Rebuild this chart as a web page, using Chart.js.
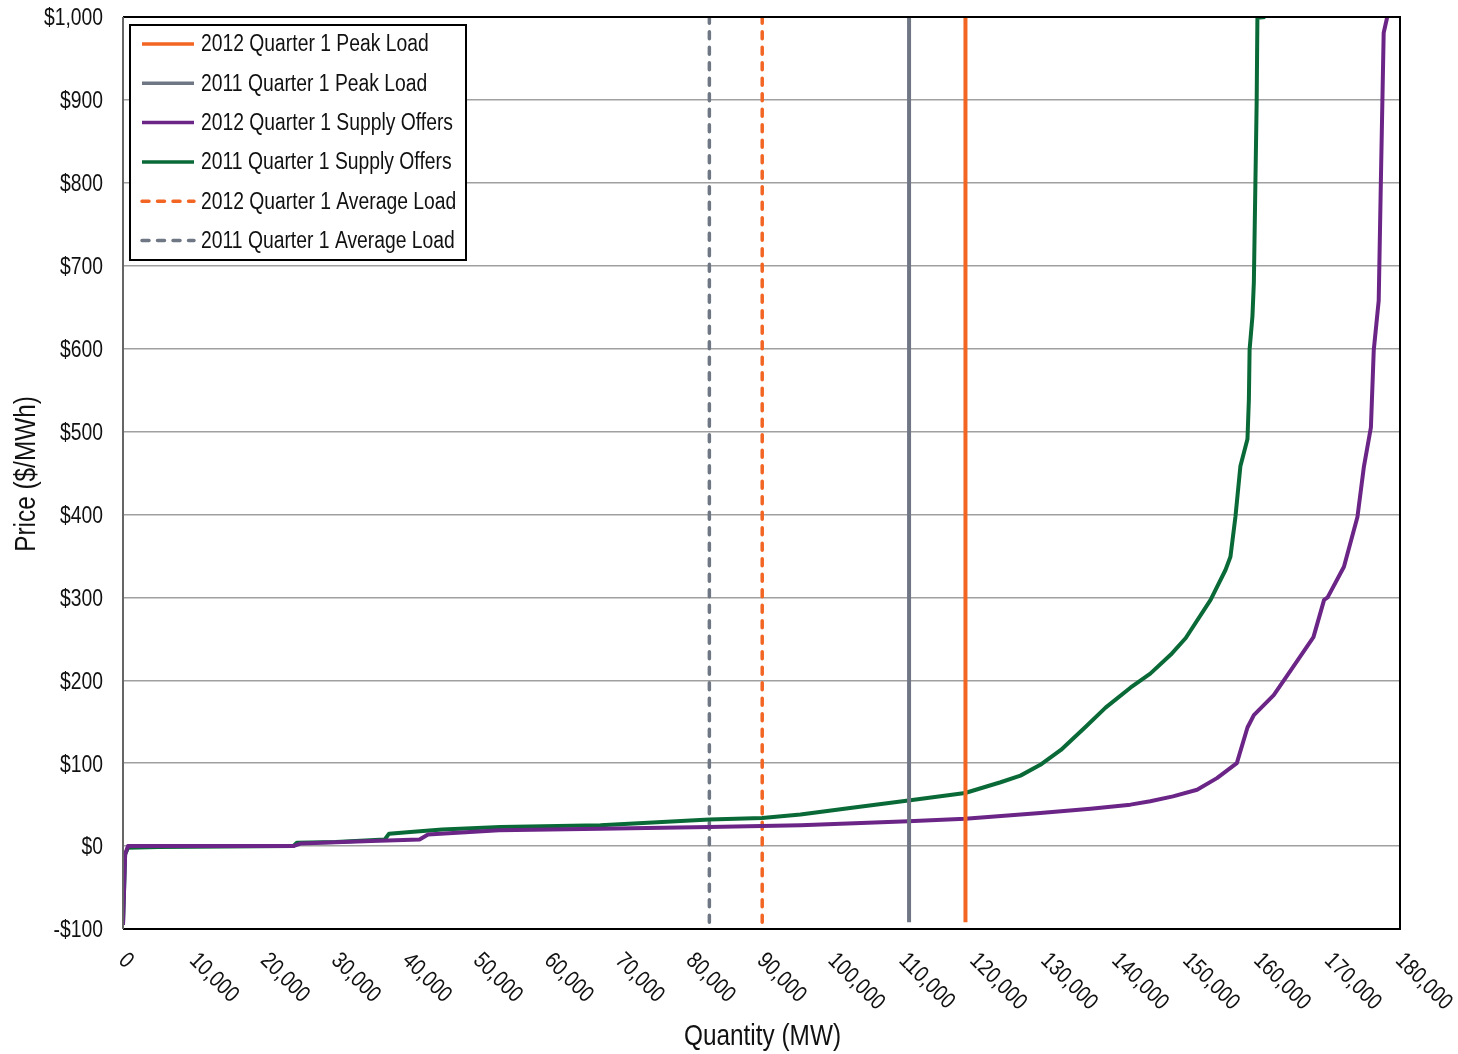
<!DOCTYPE html>
<html lang="en">
<head>
    <meta charset="UTF-8">
    <title>Supply Offers vs Load - Quarter 1</title>
    <script src="https://cdn.jsdelivr.net/npm/chart.js"></script>
    <style>
        html, body { margin: 0; padding: 0; background: #fff; }
        canvas { display: block; }
    </style>
</head>
<body>
    <canvas id="myChart" width="1458" height="1054"></canvas>
<script>
    // Curvas de oferta (MW, $/MWh)
    const quantidade2011 = [0, 300, 700, 5000, 24000, 24500, 30000, 36900, 37500, 40500, 45000, 53200, 67300,
        82650, 90100, 95500, 102500, 110700, 118700, 123700, 126500, 129300, 132200, 135700, 138500, 142000,
        144800, 147700, 149800, 153300, 155400, 156100, 156800, 157500, 158500, 158700, 158800, 159200,
        159400, 159800, 159900, 161000];
    const preco2011 = [-95, -10, -2, -1, 0, 4, 5, 8, 15, 17, 20, 23, 25,
        32, 34, 38, 46, 55, 64, 77, 85, 98, 116, 144, 167, 191,
        208, 231, 251, 297, 333, 349, 397, 458, 491, 539, 599, 639,
        680, 900, 999, 1000];

    const quantidade2012 = [0, 300, 700, 5000, 24000, 25000, 35000, 41800, 43000, 53000, 67300, 82650,
        95500, 110700, 118700, 129300, 136400, 142000, 144800, 148000, 151400, 154200, 157000, 158500,
        159400, 162200, 164600, 167800, 169300, 169800, 172100, 174000, 174900, 175900, 176300, 177000,
        177300, 177700, 178200];
    const preco2012 = [-95, -10, 0, 0, 0, 3, 6, 8, 14, 19, 21, 23,
        25, 30, 33, 40, 45, 50, 54, 60, 68, 82, 100, 143,
        158, 182, 212, 252, 297, 300, 337, 397, 457, 505, 598, 658,
        800, 981, 1000];

    // Cargas (MW)
    const picoCarga2012 = 118750;
    const picoCarga2011 = 110800;
    const mediaCarga2012 = 90100;
    const mediaCarga2011 = 82650;
    const faixaPreco = [-92, 1000];

    const xTicks = [0, 10000, 20000, 30000, 40000, 50000, 60000, 70000, 80000, 90000,
        100000, 110000, 120000, 130000, 140000, 150000, 160000, 170000, 180000];
    const yTicks = [-100, 0, 100, 200, 300, 400, 500, 600, 700, 800, 900, 1000];

    const cores = {
        laranja: '#F26522',
        cinza: '#6E7783',
        roxo: '#6B2587',
        verde: '#0A6A37'
    };

    const fonte = '"Liberation Sans", Arial, sans-serif';
    const estreito = 0.84; // compressao horizontal do texto (fonte estreita)

    function pontos(xs, ys) {
        return xs.map((x, i) => ({ x: x, y: ys[i] }));
    }

    function vertical(x) {
        return faixaPreco.map(y => ({ x: x, y: y }));
    }

    // escreve texto comprimido na horizontal
    function texto(c, str, x, y, align, ang) {
        c.save();
        c.translate(x, y);
        if (ang) c.rotate(ang);
        c.scale(estreito, 1);
        c.textAlign = align;
        c.fillText(str, 0, 0);
        c.restore();
    }

    const datasets = [
        { label: '2012 Quarter 1 Peak Load', data: vertical(picoCarga2012), borderColor: cores.laranja, borderWidth: 4, dash: [] },
        { label: '2011 Quarter 1 Peak Load', data: vertical(picoCarga2011), borderColor: cores.cinza, borderWidth: 4, dash: [] },
        { label: '2012 Quarter 1 Supply Offers', data: pontos(quantidade2012, preco2012), borderColor: cores.roxo, borderWidth: 4, dash: [] },
        { label: '2011 Quarter 1 Supply Offers', data: pontos(quantidade2011, preco2011), borderColor: cores.verde, borderWidth: 4, dash: [] },
        { label: '2012 Quarter 1 Average Load', data: vertical(mediaCarga2012), borderColor: cores.laranja, borderWidth: 3.5, dash: [7, 8.5] },
        { label: '2011 Quarter 1 Average Load', data: vertical(mediaCarga2011), borderColor: cores.cinza, borderWidth: 3.5, dash: [7, 8.5] }
    ].map(d => ({
        label: d.label,
        data: d.data,
        borderColor: d.borderColor,
        backgroundColor: d.borderColor,
        borderWidth: d.borderWidth,
        borderDash: d.dash,
        borderCapStyle: d.dash.length ? 'round' : 'butt',
        borderJoinStyle: 'round',
        showLine: true,
        pointRadius: 0,
        tension: 0
    }));

    // Moldura, rotulos dos eixos, titulos e legenda
    const extras = {
        id: 'extras',
        afterDraw(chart) {
            const c = chart.ctx;
            const a = chart.chartArea;
            const xs = chart.scales.x;
            const ys = chart.scales.y;

            c.save();
            // moldura
            c.lineWidth = 2;
            c.strokeStyle = '#000';
            c.beginPath();
            c.moveTo(a.left, a.top);
            c.lineTo(a.right, a.top);
            c.lineTo(a.right, a.bottom);
            c.lineTo(a.left, a.bottom);
            c.stroke();
            c.strokeStyle = '#666';
            c.beginPath();
            c.moveTo(a.left, a.top);
            c.lineTo(a.left, a.bottom);
            c.stroke();

            c.fillStyle = '#111';
            c.font = '23px ' + fonte;
            c.textBaseline = 'middle';

            // rotulos do eixo y
            yTicks.forEach(v => {
                const lbl = (v < 0 ? '-$' : '$') + Math.abs(v).toLocaleString('en-US');
                texto(c, lbl, a.left - 20, ys.getPixelForValue(v) + 2, 'right');
            });

            // rotulos do eixo x, inclinados 45 graus
            xTicks.forEach(v => {
                const px = xs.getPixelForValue(v);
                texto(c, v.toLocaleString('en-US'), px - 1, a.bottom + 28, 'left', Math.PI / 4);
            });

            // titulos
            c.font = '29px ' + fonte;
            texto(c, 'Quantity (MW)', (a.left + a.right) / 2 + 1, 1037, 'center');
            texto(c, 'Price ($/MWh)', 27, 474, 'center', -Math.PI / 2);

            // legenda
            const lx = 130, ly = 25, lw = 336, lh = 235;
            c.fillStyle = '#fff';
            c.fillRect(lx, ly, lw, lh);
            c.lineWidth = 2;
            c.strokeStyle = '#000';
            c.strokeRect(lx, ly, lw, lh);
            c.font = '23px ' + fonte;
            chart.data.datasets.forEach((ds, i) => {
                const y = ly + 19 + i * 39.3;
                c.beginPath();
                c.lineWidth = 3.5;
                c.strokeStyle = ds.borderColor;
                c.setLineDash(ds.borderDash);
                c.lineCap = ds.borderCapStyle;
                c.moveTo(142, y);
                c.lineTo(194, y);
                c.stroke();
                c.setLineDash([]);
                c.fillStyle = '#111';
                texto(c, ds.label, 201, y + 1, 'left');
            });
            c.restore();
        }
    };

    const ctx = document.getElementById('myChart').getContext('2d');
    const myChart = new Chart(ctx, {
        type: 'scatter',
        data: { datasets: datasets },
        plugins: [extras],
        options: {
            responsive: false,
            animation: false,
            devicePixelRatio: 1,
            layout: { padding: { left: 0, top: 17, right: 58, bottom: 0 } },
            plugins: {
                legend: { display: false },
                tooltip: { enabled: false }
            },
            scales: {
                x: {
                    type: 'linear',
                    min: 0,
                    max: 180000,
                    ticks: { display: false, stepSize: 10000 },
                    grid: { display: false },
                    border: { display: false },
                    afterFit(scale) { scale.height = 125; }
                },
                y: {
                    type: 'linear',
                    min: -100,
                    max: 1000,
                    ticks: { display: false, stepSize: 100 },
                    grid: { color: '#a0a0a0', lineWidth: 1.5, drawTicks: false },
                    border: { display: false },
                    afterFit(scale) { scale.width = 123; }
                }
            }
        }
    });
</script>
</body>
</html>
